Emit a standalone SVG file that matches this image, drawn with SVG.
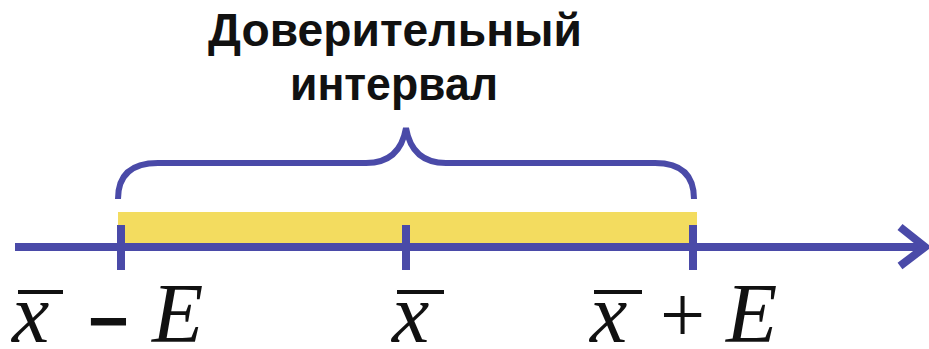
<svg xmlns="http://www.w3.org/2000/svg" width="929" height="349" viewBox="0 0 929 349">
<style>
.title{font-family:"Liberation Sans",Arial,sans-serif;font-weight:bold;font-size:46px;fill:#111;text-anchor:middle}
.math{font-family:"Liberation Serif","Times New Roman",serif;font-style:italic;font-size:84px;fill:#111}
.op{font-family:"Liberation Serif","Times New Roman",serif;font-size:80px;fill:#111}
.minus{font-family:"Liberation Sans",Arial,sans-serif;font-weight:bold;font-size:70px;fill:#111}
.blue{stroke:#4a4aa8;fill:none}
.bar{stroke:#111;stroke-width:4}
</style>
<rect width="929" height="349" fill="#fff"/>
<g id="title">
<text class="title" x="395" y="46" textLength="374" lengthAdjust="spacingAndGlyphs">Доверительный</text>
<text class="title" x="394" y="100" textLength="208" lengthAdjust="spacingAndGlyphs">интервал</text>
</g>
<g id="interval">
<rect x="118" y="212" width="579" height="32" fill="#f3dc5f"/>
</g>
<g id="connectors">
<line class="blue" x1="15" y1="247" x2="922" y2="247" stroke-width="8"/>
<path class="blue" d="M900 227 L925 247 L900 266" stroke-width="8" stroke-linejoin="miter"/>
<line class="blue" x1="121" y1="225" x2="121" y2="270" stroke-width="8"/>
<line class="blue" x1="406" y1="225" x2="406" y2="270" stroke-width="8"/>
<line class="blue" x1="693" y1="225" x2="693" y2="270" stroke-width="8"/>
<path class="blue" stroke-width="6" d="M118 199 Q118 163 158 163 L366 163 Q400 163 406 128 Q412 163 446 163 L655 163 Q694 163 694 199"/>
</g>
<g id="label-left">
<text class="math" x="12" y="342">x</text>
<line class="bar" x1="18" y1="292" x2="63" y2="292"/>
<text class="minus" x="88" y="345">−</text>
<text class="math" x="152" y="342">E</text>
</g>
<g id="label-mid">
<text class="math" x="392" y="342">x</text>
<line class="bar" x1="397" y1="292" x2="444" y2="292"/>
</g>
<g id="label-right">
<text class="math" x="590" y="342">x</text>
<line class="bar" x1="594" y1="292" x2="642" y2="292"/>
<text class="op" x="660" y="342">+</text>
<text class="math" x="726" y="342">E</text>
</g>
</svg>
